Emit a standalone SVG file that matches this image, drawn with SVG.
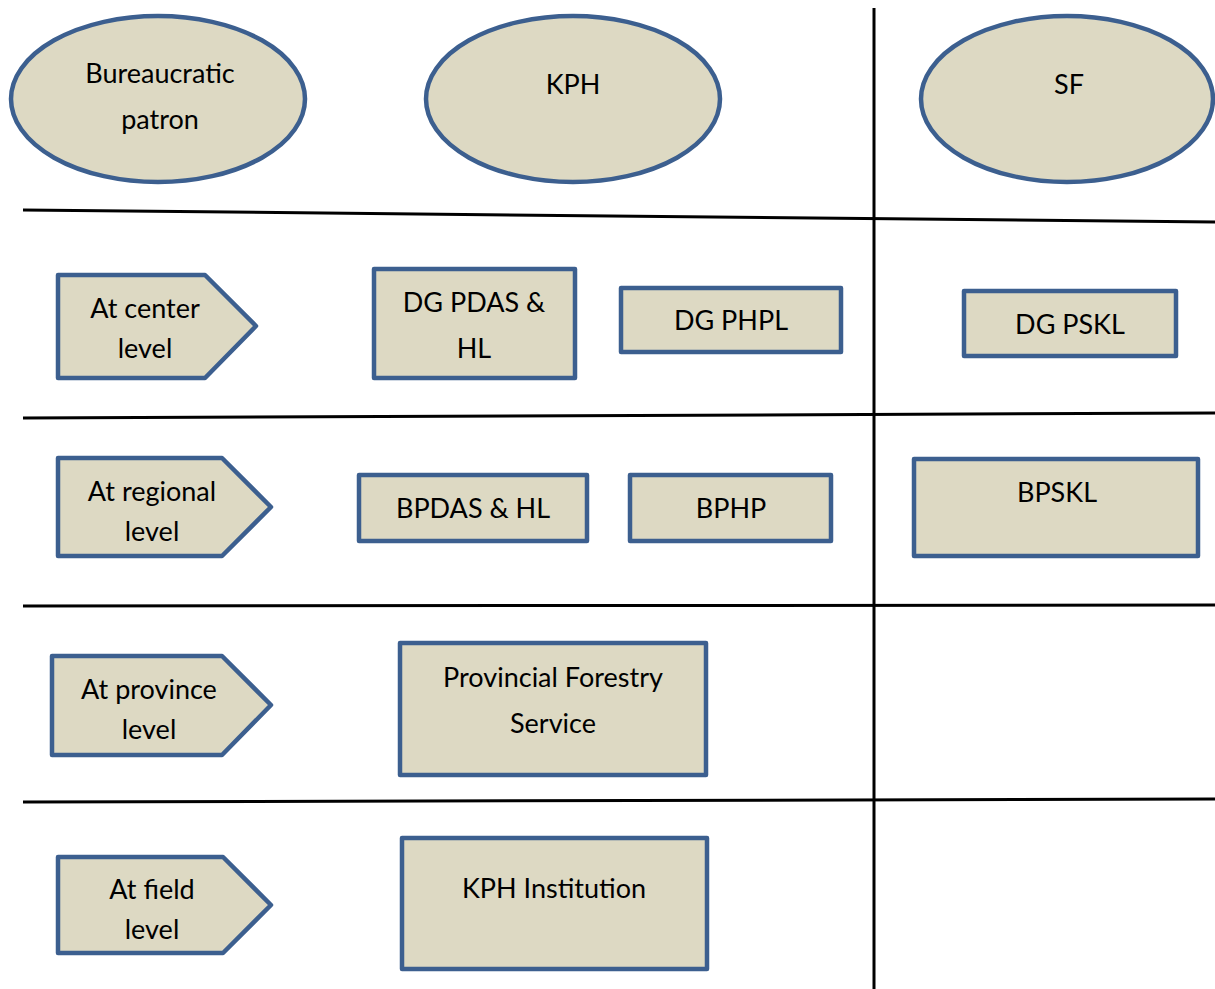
<svg xmlns="http://www.w3.org/2000/svg" width="1215" height="989" viewBox="0 0 1215 989">
<style>
.shape{fill:#DDD9C3;stroke:#3C5F8F;stroke-width:4.5;stroke-linejoin:round}
.ln{stroke:#000;stroke-width:3;fill:none}
text{font-family:Lato,"Open Sans","Liberation Sans",sans-serif;font-size:27px;fill:#000;text-anchor:middle}
</style>
<rect width="1215" height="989" fill="#fff"/>
<g id="connectors">
<line class="ln" x1="23" y1="210" x2="1215" y2="222"/>
<line class="ln" x1="23" y1="418" x2="1215" y2="413"/>
<line class="ln" x1="23" y1="606" x2="1215" y2="605"/>
<line class="ln" x1="23" y1="802" x2="1215" y2="799"/>
<line class="ln" x1="874" y1="8" x2="874" y2="989"/>
</g>
<g id="bureaucratic-patron">
<ellipse class="shape" cx="158" cy="99" rx="147" ry="83"/>
<text x="160" y="83">Bureaucratic</text>
<text x="160" y="129">patron</text>
</g>
<g id="kph">
<ellipse class="shape" cx="573" cy="99" rx="147" ry="83"/>
<text x="573" y="94">KPH</text>
</g>
<g id="sf">
<ellipse class="shape" cx="1067" cy="99" rx="146" ry="83"/>
<text x="1069" y="94">SF</text>
</g>
<g id="center-level">
<polygon class="shape" points="58,275 205,275 256,326 205,378 58,378"/>
<text x="145" y="318">At center</text>
<text x="145" y="358">level</text>
</g>
<g id="regional-level">
<polygon class="shape" points="58,458 222,458 271,507 222,556 58,556"/>
<text x="152" y="501">At regional</text>
<text x="152" y="541">level</text>
</g>
<g id="province-level">
<polygon class="shape" points="52,656 222,656 271,705 222,755 52,755"/>
<text x="149" y="699">At province</text>
<text x="149" y="739">level</text>
</g>
<g id="field-level">
<polygon class="shape" points="58,857 223,857 271,905 223,953 58,953"/>
<text x="152" y="899">At field</text>
<text x="152" y="939">level</text>
</g>
<g id="dg-pdas-hl">
<rect class="shape" x="374" y="269" width="201" height="109"/>
<text x="474" y="312">DG PDAS &amp;</text>
<text x="474" y="358">HL</text>
</g>
<g id="dg-phpl">
<rect class="shape" x="621" y="288" width="220" height="64"/>
<text x="731" y="330">DG PHPL</text>
</g>
<g id="dg-pskl">
<rect class="shape" x="964" y="291" width="212" height="65"/>
<text x="1070" y="334">DG PSKL</text>
</g>
<g id="bpdas-hl">
<rect class="shape" x="359" y="475" width="228" height="66"/>
<text x="473" y="518">BPDAS &amp; HL</text>
</g>
<g id="bphp">
<rect class="shape" x="630" y="475" width="201" height="66"/>
<text x="731" y="518">BPHP</text>
</g>
<g id="bpskl">
<rect class="shape" x="914" y="459" width="284" height="97"/>
<text x="1057" y="502">BPSKL</text>
</g>
<g id="provincial-forestry-service">
<rect class="shape" x="400" y="643" width="306" height="132"/>
<text x="553" y="687">Provincial Forestry</text>
<text x="553" y="733">Service</text>
</g>
<g id="kph-institution">
<rect class="shape" x="402" y="838" width="305" height="131"/>
<text x="554" y="898">KPH Institution</text>
</g>
</svg>
